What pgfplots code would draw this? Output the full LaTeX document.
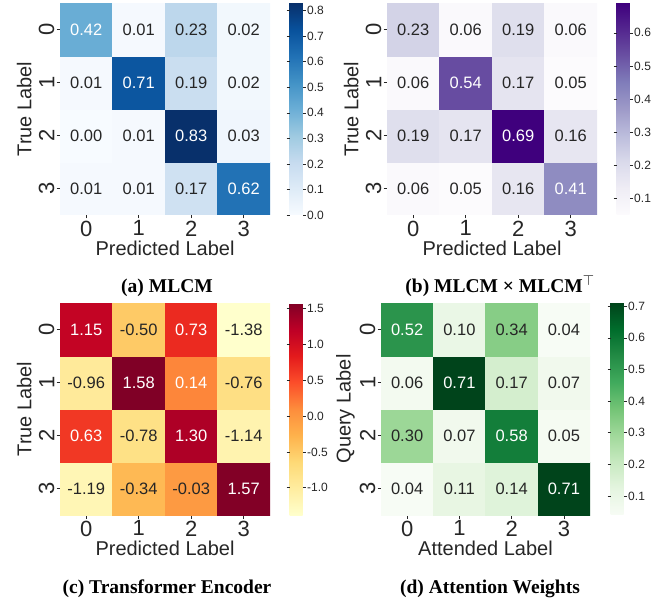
\documentclass[border=0pt]{standalone}
\usepackage{pgfplots}
\pgfplotsset{compat=1.18}
\usepackage{pgfplotstable}
\usepackage{fontspec}
\setmainfont{Liberation Sans}
\newfontfamily\capfont{Liberation Serif}
\definecolor{txt}{HTML}{262626}

% rows listed bottom (label 3) to top (label 0); y = 3 - row; w=1: white text
\pgfplotstableread{
x y v w
0 0 0.01 0
1 0 0.01 0
2 0 0.17 0
3 0 0.62 1
0 1 0.00 0
1 1 0.01 0
2 1 0.83 1
3 1 0.03 0
0 2 0.01 0
1 2 0.71 1
2 2 0.19 0
3 2 0.02 0
0 3 0.42 1
1 3 0.01 0
2 3 0.23 0
3 3 0.02 0
}\taba
\pgfplotstableread{
x y v w
0 0 0.06 0
1 0 0.05 0
2 0 0.16 0
3 0 0.41 1
0 1 0.19 0
1 1 0.17 0
2 1 0.69 1
3 1 0.16 0
0 2 0.06 0
1 2 0.54 1
2 2 0.17 0
3 2 0.05 0
0 3 0.23 0
1 3 0.06 0
2 3 0.19 0
3 3 0.06 0
}\tabb
\pgfplotstableread{
x y v w
0 0 -1.19 0
1 0 -0.34 0
2 0 -0.03 0
3 0 1.57 1
0 1 0.63 1
1 1 -0.78 0
2 1 1.30 1
3 1 -1.14 0
0 2 -0.96 0
1 2 1.58 1
2 2 0.14 1
3 2 -0.76 0
0 3 1.15 1
1 3 -0.50 0
2 3 0.73 1
3 3 -1.38 0
}\tabc
\pgfplotstableread{
x y v w
0 0 0.04 0
1 0 0.11 0
2 0 0.14 0
3 0 0.71 1
0 1 0.30 0
1 1 0.07 0
2 1 0.58 1
3 1 0.05 0
0 2 0.06 0
1 2 0.71 1
2 2 0.17 0
3 2 0.07 0
0 3 0.52 1
1 3 0.10 0
2 3 0.34 0
3 3 0.04 0
}\tabd

\pgfplotsset{
  colormap={Blues}{rgb255=(247,251,255) rgb255=(222,235,247) rgb255=(198,219,239) rgb255=(158,202,225) rgb255=(107,174,214) rgb255=(66,146,198) rgb255=(33,113,181) rgb255=(8,81,156) rgb255=(8,48,107)},
  colormap={Purples}{rgb255=(252,251,253) rgb255=(239,237,245) rgb255=(218,218,235) rgb255=(188,189,220) rgb255=(158,154,200) rgb255=(128,125,186) rgb255=(106,81,163) rgb255=(84,39,143) rgb255=(63,0,125)},
  colormap={YlOrRd}{rgb255=(255,255,204) rgb255=(255,237,160) rgb255=(254,217,118) rgb255=(254,178,76) rgb255=(253,141,60) rgb255=(252,78,42) rgb255=(227,26,28) rgb255=(189,0,38) rgb255=(128,0,38)},
  colormap={Greens}{rgb255=(247,252,245) rgb255=(229,245,224) rgb255=(199,233,192) rgb255=(161,217,155) rgb255=(116,196,118) rgb255=(65,171,93) rgb255=(35,139,69) rgb255=(0,109,44) rgb255=(0,68,27)},
  hm/.style={
    scale only axis, width=210pt, height=212pt, anchor=south west,
    xmin=-0.5, xmax=3.5, ymin=-0.5, ymax=3.5,
    axis line style={draw=none},
    xtick={0,1,2,3}, xticklabels={0,1,2,3},
    ytick={0,1,2,3}, yticklabels={3,2,1,0},
    xtick pos=left, ytick pos=left, tick align=outside,
    major tick length=3.5pt, tick style={color=txt, line width=0.7pt},
    xticklabel style={font=\fontsize{22}{22}\selectfont, color=txt, inner sep=2pt},
    yticklabel style={font=\fontsize{22}{22}\selectfont, color=txt, rotate=90, anchor=south, inner sep=2pt},
    xlabel style={font=\fontsize{20}{20}\selectfont, color=txt, at={(axis description cs:0.5,-0.155)}, anchor=center},
    ylabel style={font=\fontsize{20}{20}\selectfont, color=txt, at={(axis description cs:-0.17,0.5)}, anchor=center},
    colorbar,
    colorbar style={at={(parent axis.north east)}, anchor=north west, width=13pt,
      axis line style={draw=none}, tick align=outside, major tick length=3pt,
      tick style={color=txt, line width=0.6pt},
      yticklabel style={font=\fontsize{12}{12}\selectfont, color=txt, inner sep=1.5pt}},
  },
  txtbase/.style={only marks, mark=none,
    point meta=explicit symbolic,
    nodes near coords,
    every node near coord/.style={anchor=center, font=\fontsize{16.5}{16.5}\selectfont}},
  txtw/.style={txtbase, restrict expr to domain={\thisrow{w}}{0.5:1.5},
    nodes near coords={\color{white}\pgfplotspointmeta}},
  txtd/.style={txtbase, restrict expr to domain={\thisrow{w}}{-0.5:0.5},
    nodes near coords={\color{txt}\pgfplotspointmeta}},
}

\begin{document}
\begin{tikzpicture}
\useasboundingbox (0,0) rectangle (658pt,605pt);

% (a)
\begin{axis}[hm, at={(60pt,390pt)},
  xlabel={Predicted Label}, ylabel={True Label},
  colormap name=Blues, point meta min=0, point meta max=0.83,
  colorbar style={xshift=11pt, ytick={0,0.1,0.2,0.3,0.4,0.5,0.6,0.7,0.8},
    yticklabels={0.0,0.1,0.2,0.3,0.4,0.5,0.6,0.7,0.8}}]
\addplot[matrix plot*, mesh/cols=4, point meta=explicit] table[x=x,y=y,meta=v]{\taba};
\addplot[txtw] table[x=x,y=y,meta=v]{\taba};
\addplot[txtd] table[x=x,y=y,meta=v]{\taba};
\end{axis}

% (b)
\begin{axis}[hm, at={(387pt,390pt)},
  xlabel={Predicted Label}, ylabel={True Label},
  colormap name=Purples, point meta min=0.05, point meta max=0.69,
  colorbar style={xshift=11pt, ytick={0.1,0.2,0.3,0.4,0.5,0.6},
    yticklabels={0.1,0.2,0.3,0.4,0.5,0.6}}]
\addplot[matrix plot*, mesh/cols=4, point meta=explicit] table[x=x,y=y,meta=v]{\tabb};
\addplot[txtw] table[x=x,y=y,meta=v]{\tabb};
\addplot[txtd] table[x=x,y=y,meta=v]{\tabb};
\end{axis}

% (c)
\begin{axis}[hm, at={(60pt,90pt)},
  xlabel={Predicted Label}, ylabel={True Label},
  colormap name=YlOrRd, point meta min=-1.38, point meta max=1.58,
  colorbar style={xshift=11pt, ytick={-1,-0.5,0,0.5,1,1.5},
    yticklabels={-1.0,-0.5,0.0,0.5,1.0,1.5}}]
\addplot[matrix plot*, mesh/cols=4, point meta=explicit] table[x=x,y=y,meta=v]{\tabc};
\addplot[txtw] table[x=x,y=y,meta=v]{\tabc};
\addplot[txtd] table[x=x,y=y,meta=v]{\tabc};
\end{axis}

% (d)
\begin{axis}[hm, at={(381pt,90pt)}, width=209pt,
  xlabel={Attended Label}, ylabel={Query Label},
  colormap name=Greens, point meta min=0.04, point meta max=0.71,
  colorbar style={xshift=12pt, ytick={0.1,0.2,0.3,0.4,0.5,0.6,0.7},
    yticklabels={0.1,0.2,0.3,0.4,0.5,0.6,0.7}}]
\addplot[matrix plot*, mesh/cols=4, point meta=explicit] table[x=x,y=y,meta=v]{\tabd};
\addplot[txtw] table[x=x,y=y,meta=v]{\tabd};
\addplot[txtd] table[x=x,y=y,meta=v]{\tabd};
\end{axis}

\node[anchor=base, font=\capfont\bfseries\fontsize{19.5}{19.5}\selectfont] at (167pt,312pt) {(a) MLCM};
\node[anchor=base, font=\capfont\bfseries\fontsize{19.5}{19.5}\selectfont] at (500pt,312pt) {(b) MLCM × MLCM$^{\top}$};
\node[anchor=base, font=\capfont\bfseries\fontsize{19.5}{19.5}\selectfont] at (167pt,12pt) {(c) Transformer Encoder};
\node[anchor=base, font=\capfont\bfseries\fontsize{19.5}{19.5}\selectfont] at (490pt,12pt) {(d) Attention Weights};
\end{tikzpicture}
\end{document}
